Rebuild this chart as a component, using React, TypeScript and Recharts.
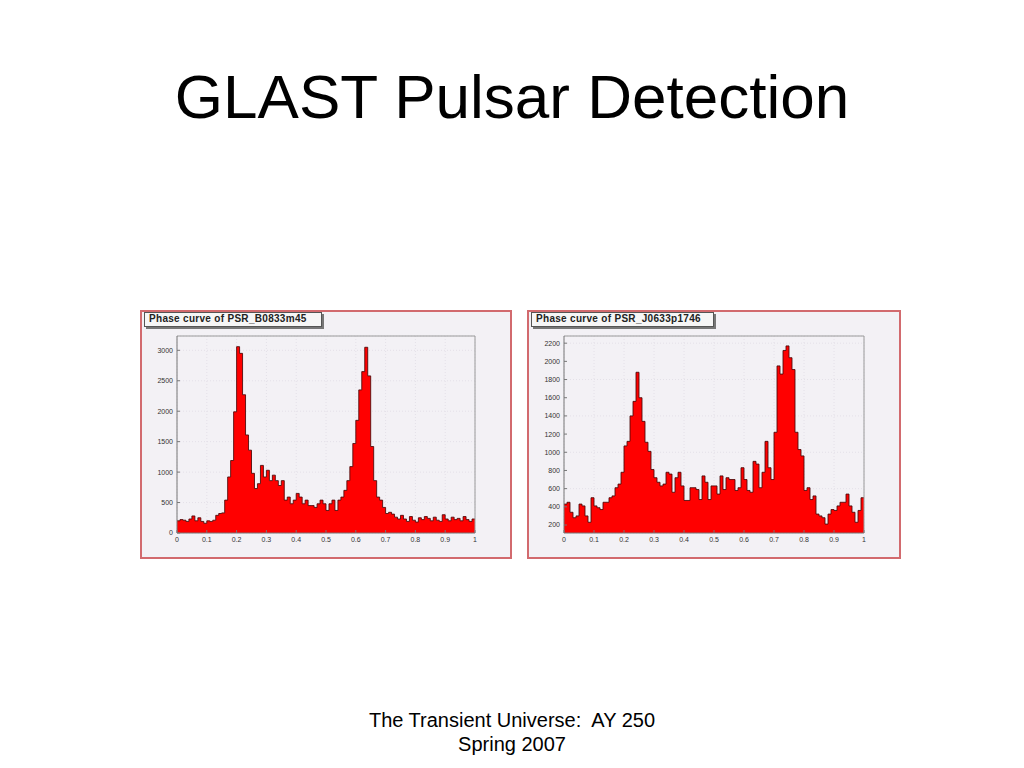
import { AreaChart, Area, XAxis, YAxis, CartesianGrid, ReferenceLine } from 'recharts';

// phase histograms, 100 bins over [0, 1)
const velaCounts = [
  200, 220, 210, 190, 230, 280, 200, 250, 190, 160,
  200, 190, 210, 290, 320, 330, 540, 920, 1190, 1990,
  3060, 2950, 2270, 1610, 1360, 980, 730, 810, 1110, 920,
  1030, 860, 950, 860, 780, 860, 540, 590, 480, 540,
  650, 590, 480, 540, 450, 450, 420, 480, 540, 480,
  370, 480, 540, 370, 540, 590, 700, 860, 1090, 1470,
  1850, 2350, 2650, 3050, 2580, 1420, 860, 590, 540, 420,
  320, 340, 310, 260, 230, 290, 230, 190, 270, 210,
  180, 250, 220, 270, 240, 200, 260, 210, 190, 300,
  230, 200, 260, 220, 240, 200, 270, 220, 190, 230,
];

const gemingaCounts = [
  430, 450, 340, 280, 300, 430, 410, 300, 230, 500,
  410, 390, 370, 450, 450, 500, 520, 610, 650, 780,
  1070, 1120, 1400, 1560, 1880, 1600, 1340, 1110, 1010, 810,
  720, 670, 630, 650, 780, 760, 560, 720, 780, 630,
  470, 470, 610, 610, 590, 480, 740, 670, 480, 630,
  630, 540, 740, 590, 720, 700, 700, 580, 610, 830,
  700, 580, 560, 900, 870, 610, 780, 1120, 830, 700,
  1220, 1950, 1860, 2120, 2170, 2040, 1910, 1220, 1030, 960,
  580, 610, 480, 520, 320, 300, 280, 210, 320, 370,
  360, 410, 450, 450, 540, 410, 340, 230, 360, 500,
];

const phaseTicks = [0, 0.1, 0.2, 0.3, 0.4, 0.5, 0.6, 0.7, 0.8, 0.9, 1];
const velaTicks = [0, 500, 1000, 1500, 2000, 2500, 3000];
const gemingaTicks = [200, 400, 600, 800, 1000, 1200, 1400, 1600, 1800, 2000, 2200];

// step data: one point per bin low edge, plus the closing edge at 1
function toSteps(counts: number[]) {
  const n = counts.length;
  const rows = counts.map((c, i) => ({ x: i / n, y: c }));
  rows.push({ x: 1, y: counts[n - 1] });
  return rows;
}

const tickStyle = { fontSize: 7, fill: '#333', fontFamily: 'Liberation Sans, Arial, sans-serif' };

type PanelProps = {
  left: number;
  width: number;
  title: string;
  titleWidth: number;
  counts: number[];
  yTicks: number[];
  yDomain: [number, number];
};

function Panel({ left, width, title, titleWidth, counts, yTicks, yDomain }: PanelProps) {
  const data = toSteps(counts);
  const inner = width - 4;
  return (
    <div
      style={{
        position: 'absolute',
        left,
        top: 310,
        width: inner,
        height: 245,
        border: '2px solid #d26a6e',
        background: '#f3f1f5',
      }}
    >
      <AreaChart
        width={inner}
        height={245}
        data={data}
        margin={{ top: 24, right: 35, left: 0, bottom: 0 }}
      >
        <CartesianGrid stroke="#e4e0e8" strokeDasharray="1 2" />
        <XAxis
          dataKey="x"
          type="number"
          domain={[0, 1]}
          ticks={phaseTicks}
          height={24}
          tick={tickStyle}
          tickSize={-3}
          tickMargin={7}
          stroke="#777"
          tickFormatter={(v: number) => String(v)}
        />
        <YAxis
          type="number"
          domain={yDomain}
          allowDataOverflow
          ticks={yTicks}
          width={35}
          tick={tickStyle}
          tickSize={-3}
          tickMargin={7}
          stroke="#777"
        />
        <Area
          type="stepAfter"
          dataKey="y"
          stroke="#4a0808"
          strokeOpacity={0.85}
          strokeWidth={1}
          fill="#ff0000"
          fillOpacity={1}
          isAnimationActive={false}
        />
        <ReferenceLine y={yDomain[1]} stroke="#9a9a9a" />
        <ReferenceLine x={1} stroke="#9a9a9a" />
      </AreaChart>
      <div
        style={{
          position: 'absolute',
          left: 2,
          top: 0,
          width: titleWidth,
          height: 15,
          background: '#f6f6f6',
          border: '1px solid #555',
          boxShadow: '2px 2px 0 #777',
          fontFamily: 'Liberation Sans, Arial, sans-serif',
          fontWeight: 'bold',
          fontSize: 10,
          lineHeight: '12px',
          letterSpacing: 0.3,
          color: '#222',
          paddingLeft: 4,
          boxSizing: 'border-box',
          whiteSpace: 'nowrap',
        }}
      >
        {title}
      </div>
    </div>
  );
}

export default function App() {
  return (
    <div
      style={{
        position: 'absolute',
        left: 0,
        top: 0,
        width: 1024,
        height: 768,
        background: '#fff',
        fontFamily: 'Liberation Sans, Arial, sans-serif',
        overflow: 'hidden',
      }}
    >
      <div
        style={{
          position: 'absolute',
          left: 0,
          top: 66,
          width: 1024,
          textAlign: 'center',
          fontSize: 62,
          lineHeight: '62px',
          color: '#000',
        }}
      >
        GLAST Pulsar Detection
      </div>

      <Panel
        left={140}
        width={372}
        title="Phase curve of PSR_B0833m45"
        titleWidth={178}
        counts={velaCounts}
        yTicks={velaTicks}
        yDomain={[0, 3235]}
      />
      <Panel
        left={527}
        width={374}
        title="Phase curve of PSR_J0633p1746"
        titleWidth={183}
        counts={gemingaCounts}
        yTicks={gemingaTicks}
        yDomain={[112, 2279]}
      />

      <div
        style={{
          position: 'absolute',
          left: 0,
          top: 708,
          width: 1024,
          textAlign: 'center',
          fontSize: 20,
          lineHeight: '24px',
          color: '#000',
          whiteSpace: 'pre',
        }}
      >
        {'The Transient Universe:  AY 250\nSpring 2007'}
      </div>
    </div>
  );
}
